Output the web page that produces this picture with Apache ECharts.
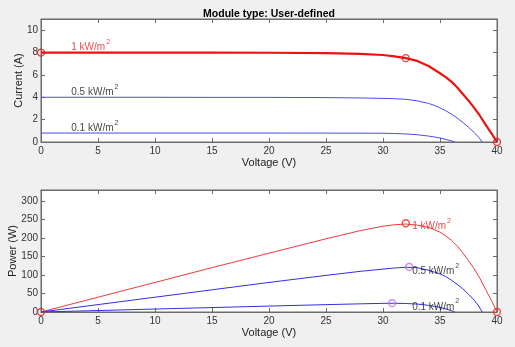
<!DOCTYPE html>
<html>
<head>
<meta charset="utf-8">
<script src="https://cdn.jsdelivr.net/npm/echarts@6/dist/echarts.min.js"></script>
<style>
  html, body { margin: 0; padding: 0; background: #f0f0f0; }
  #chart { width: 515px; height: 347px; }
</style>
</head>
<body>
<div id="chart"></div>
<script>
// irradiance levels (kW/m^2)
const irradiance = ['1', '0.5', '0.1']

// I-V curves
const volt1 = [0, 5, 10, 15, 20, 25, 28, 30, 31, 32, 33, 34, 35, 35.5, 36, 36.5, 37, 37.5, 38, 38.5, 39, 39.5, 40]
const curr1 = [8.0, 8.0, 7.99, 7.99, 7.98, 7.95, 7.88, 7.78, 7.66, 7.5, 7.25, 6.8, 6.15, 5.8, 5.4, 4.9, 4.3, 3.7, 3.05, 2.35, 1.55, 0.8, 0]
const volt05 = [0, 5, 10, 15, 20, 25, 28, 30, 31, 32, 33, 34, 34.5, 35, 35.5, 36, 36.5, 37, 37.5, 38, 38.4, 38.7]
const curr05 = [4.0, 4.0, 4.0, 3.99, 3.99, 3.97, 3.94, 3.9, 3.87, 3.82, 3.68, 3.45, 3.28, 3.05, 2.8, 2.5, 2.15, 1.75, 1.32, 0.85, 0.42, 0]
const volt01 = [0, 5, 10, 15, 20, 25, 28, 30, 31, 32, 33, 34, 34.5, 35, 35.5, 36, 36.3]
const curr01 = [0.8, 0.8, 0.8, 0.8, 0.8, 0.795, 0.79, 0.78, 0.76, 0.72, 0.65, 0.53, 0.45, 0.36, 0.24, 0.1, 0]

// P-V curves
const pow1 = [0, 40, 80, 120, 159, 198, 220, 232, 236, 238, 235, 229, 216, 206, 194, 179, 160, 139, 117, 91, 61, 32, 0]
const pow05 = [0, 20, 40, 60, 80, 99, 110, 116, 119, 121, 120, 113, 108, 103, 96, 86, 75, 63, 48, 32, 16, 0]
const pow01 = [0, 4, 8, 12, 16, 19.9, 22.1, 23.4, 23.6, 23.0, 21.5, 18, 15.5, 12.6, 8.5, 3.6, 0]

// marked points [V, value]
const ivMarks = [[0, 8.0], [32, 7.5], [40, 0]]
const pvMarksRed = [[0, 0], [32, 240], [40, 0]]
const pvMarksMpp = [[32.3, 122], [30.8, 24]]

// axis ticks [min, max, step]
const voltTicks = [0, 40, 5]
const currTicks = [0, 11, 2]
const powTicks = [0, 330, 50]

const zip = (xs, ys) => xs.map((x, i) => [x, ys[i]])

const chart = echarts.init(document.getElementById('chart'))

const axisColor = '#6b6b6b'
const textColor = '#333'
const font = 'Liberation Sans, Arial, sans-serif'

function xAxisFor(grid, pos, labels, name) {
  return {
    type: 'value', gridIndex: grid, position: pos,
    min: voltTicks[0], max: voltTicks[1], interval: voltTicks[2],
    name: name, nameLocation: 'middle', nameGap: 15, nameMoveOverlap: false,
    nameTextStyle: { color: '#222', fontSize: 11, fontFamily: font },
    axisLine: { show: true, onZero: false, lineStyle: { color: axisColor, width: 1 } },
    axisTick: { show: true, inside: true, length: 4, lineStyle: { color: axisColor } },
    axisLabel: { show: labels, color: textColor, fontSize: 10, fontFamily: font, margin: 4 },
    splitLine: { show: false }
  }
}

function yAxisFor(grid, pos, labels, ticks, name, gap) {
  return {
    type: 'value', gridIndex: grid, position: pos,
    min: ticks[0], max: ticks[1], interval: ticks[2],
    name: name, nameLocation: 'middle', nameGap: gap, nameMoveOverlap: false,
    nameTextStyle: { color: '#222', fontSize: 11, fontFamily: font },
    axisLine: { show: true, onZero: false, lineStyle: { color: axisColor, width: 1 } },
    axisTick: { show: true, inside: true, length: 4, lineStyle: { color: axisColor } },
    axisLabel: { show: labels, color: textColor, fontSize: 10, fontFamily: font, margin: 3, showMaxLabel: false },
    splitLine: { show: false }
  }
}

function irrLabel(i, color, x, y, xi, yi) {
  return {
    type: 'scatter', xAxisIndex: xi, yAxisIndex: yi,
    data: [[x, y]], symbolSize: 1, itemStyle: { color: 'rgba(0,0,0,0)' },
    silent: true, z: 5,
    label: {
      show: true, position: [0, 0], align: 'left', verticalAlign: 'middle',
      formatter: '{a|' + irradiance[i] + ' kW/m}{s|2}',
      rich: {
        a: { color: color, fontSize: 10, fontFamily: font, lineHeight: 14, verticalAlign: 'bottom' },
        s: { color: color, fontSize: 7, fontFamily: font, lineHeight: 14, verticalAlign: 'top', padding: [0, 0, 0, 1] }
      }
    }
  }
}

function curve(data, color, width, xi, yi) {
  return {
    type: 'line', xAxisIndex: xi, yAxisIndex: yi, data: data,
    showSymbol: false, smooth: false,
    lineStyle: { color: color, width: width }, z: 3
  }
}

function marks(data, color, size, xi, yi) {
  return {
    type: 'scatter', xAxisIndex: xi, yAxisIndex: yi, data: data,
    symbol: 'circle', symbolSize: size,
    itemStyle: { color: 'rgba(255,255,255,0)', borderColor: color, borderWidth: 1.3 },
    z: 4
  }
}

const option = {
  backgroundColor: '#f0f0f0',
  animation: false,
  title: {
    text: 'Module type: User-defined',
    left: 264, top: 4, textAlign: 'center',
    textStyle: { fontSize: 10.5, fontWeight: 'bold', color: '#000', fontFamily: font }
  },
  grid: [
    { left: 41, top: 19, width: 456, height: 123, show: true, outerBoundsMode: 'none', containLabel: false,
      backgroundColor: '#fff', borderColor: axisColor, borderWidth: 1 },
    { left: 41, top: 190, width: 456, height: 122, show: true, outerBoundsMode: 'none', containLabel: false,
      backgroundColor: '#fff', borderColor: axisColor, borderWidth: 1 }
  ],
  xAxis: [
    xAxisFor(0, 'bottom', true, 'Voltage (V)'),
    xAxisFor(1, 'bottom', true, 'Voltage (V)'),
    xAxisFor(0, 'top', false, ''),
    xAxisFor(1, 'top', false, '')
  ],
  yAxis: [
    yAxisFor(0, 'left', true, currTicks, 'Current (A)', 17),
    yAxisFor(1, 'left', true, powTicks, 'Power (W)', 23),
    yAxisFor(0, 'right', false, currTicks, '', 0),
    yAxisFor(1, 'right', false, powTicks, '', 0)
  ],
  series: [
    curve(zip(volt05, curr05), '#4a4ae8', 1, 0, 0),
    curve(zip(volt01, curr01), '#4a4ae8', 1, 0, 0),
    curve(zip(volt1, curr1), '#ee1111', 2.2, 0, 0),
    marks(ivMarks, '#ee1111', 7, 0, 0),
    irrLabel(0, '#e02020', 2.7, 8.6, 0, 0),
    irrLabel(1, '#111', 2.7, 4.6, 0, 0),
    irrLabel(2, '#111', 2.7, 1.37, 0, 0),

    curve(zip(volt1, pow1), '#f03a3a', 1, 1, 1),
    curve(zip(volt05, pow05), '#3030e0', 1, 1, 1),
    curve(zip(volt01, pow01), '#3030e0', 1, 1, 1),
    marks(pvMarksRed, '#ee2222', 7, 1, 1),
    marks(pvMarksMpp, '#c060f0', 7, 1, 1),
    irrLabel(0, '#e02020', 32.6, 236, 1, 1),
    irrLabel(1, '#111', 32.6, 113, 1, 1),
    irrLabel(2, '#111', 32.6, 18, 1, 1)
  ]
}

chart.setOption(option)
</script>
</body>
</html>
